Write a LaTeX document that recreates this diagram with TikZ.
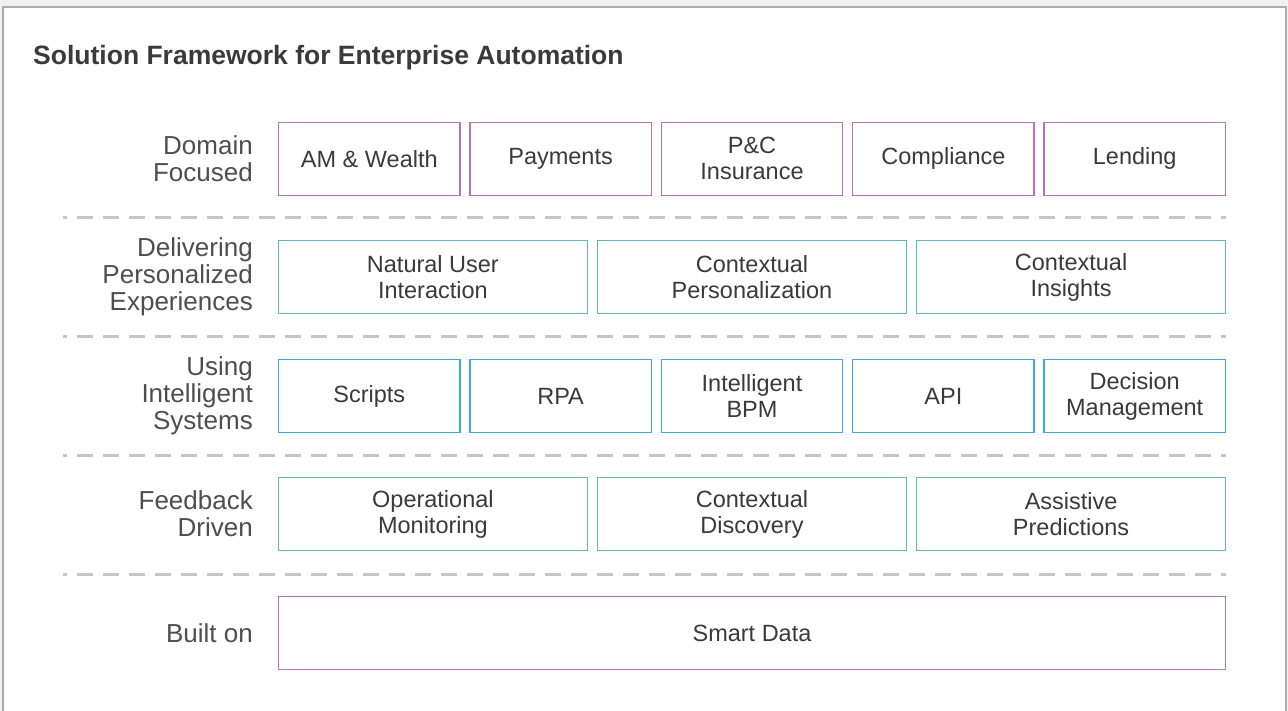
\documentclass[tikz,border=0pt]{standalone}
\usepackage{fontspec}
\setmainfont{Liberation Sans}
\definecolor{dompurple}{HTML}{B672B8}
\definecolor{expteal}{HTML}{62B6BE}
\definecolor{sysblue}{HTML}{40A8D6}
\definecolor{sepgray}{HTML}{C6C6CA}
\definecolor{inktext}{HTML}{3A3A3A}
\tikzset{
	layer/.style={draw, line width=1.4pt, minimum height=73pt, inner sep=0pt, align=center, text=inktext, font=\fontsize{23.5}{26}\selectfont},
	dombox/.style={layer, draw=dompurple, minimum width=181.5pt},
	sysbox/.style={layer, draw=sysblue, minimum width=181.5pt},
	expbox/.style={layer, draw=expteal, minimum width=308.8pt},
	rowlabel/.style={anchor=east, align=right, inner sep=0pt, text=inktext!90, font=\fontsize{26}{27}\selectfont},
	sepline/.style={draw=sepgray, line width=3pt, dash pattern=on 16pt off 10pt, dash phase=12pt}
}
\begin{document}
\begin{tikzpicture}[x=1pt,y=-1pt]
	\useasboundingbox (0,0) rectangle (1288,711);
	\fill[gray!12] (0,0) rectangle (1288,711);
	\filldraw[fill=white, draw=gray!65, line width=1.5pt] (3,7) rectangle (1286,730);
	\node[anchor=base west, inner sep=0pt, text=inktext, font=\fontsize{26.5}{28}\selectfont\bfseries] (title) at (33,65) {Solution Framework for Enterprise Automation};
	% row labels
	\node[rowlabel] (lbldomain) at (253,158.75) {Domain\\Focused};
	\node[rowlabel] (lblexp) at (253,277) {Delivering\\Personalized\\Experiences};
	\node[rowlabel] (lblsys) at (253,396) {Using\\Intelligent\\Systems};
	\node[rowlabel] (lblfeed) at (253,514) {Feedback\\Driven};
	\node[rowlabel] (lblbuilt) at (253,633) {Built on};
	% domain row
	\node[dombox] (amwealth) at (369.3,158.75) {AM \& Wealth};
	\node[dombox] (payments) at (560.6,158.75) {Payments};
	\node[dombox] (pcins) at (752,158.75) {P\&C\\Insurance};
	\node[dombox] (compliance) at (943.4,158.75) {Compliance};
	\node[dombox] (lending) at (1134.7,158.75) {Lending};
	\draw[sepline] (63,217.5) -- (1226,217.5);
	% experiences row
	\node[expbox] (natural) at (432.9,277) {Natural User\\Interaction};
	\node[expbox] (ctxpers) at (752,277) {Contextual\\Personalization};
	\node[expbox] (ctxins) at (1071.1,277) {Contextual\\Insights};
	\draw[sepline] (63,336.5) -- (1226,336.5);
	% systems row
	\node[sysbox] (scripts) at (369.3,396) {Scripts};
	\node[sysbox] (rpa) at (560.6,396) {RPA};
	\node[sysbox] (ibpm) at (752,396) {Intelligent\\BPM};
	\node[sysbox] (api) at (943.4,396) {API};
	\node[sysbox] (decision) at (1134.7,396) {Decision\\Management};
	\draw[sepline] (63,455) -- (1226,455);
	% feedback row
	\node[expbox] (opmon) at (432.9,514) {Operational\\Monitoring};
	\node[expbox] (ctxdisc) at (752,514) {Contextual\\Discovery};
	\node[expbox] (assist) at (1071.1,514) {Assistive\\Predictions};
	\draw[sepline] (63,574) -- (1226,574);
	% base row
	\node[dombox, minimum width=946.6pt] (smartdata) at (752,633) {Smart Data};
\end{tikzpicture}
\end{document}
